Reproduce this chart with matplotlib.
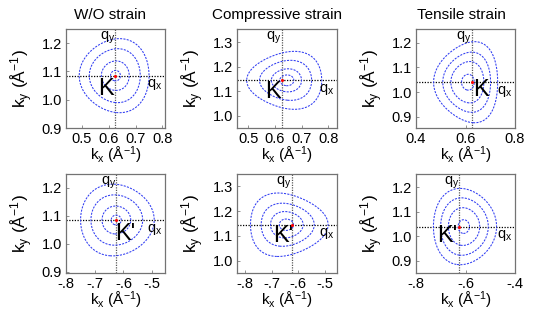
"""Constant-energy contours around K and K' for unstrained / strained graphene."""

import matplotlib

matplotlib.use("Agg")
import matplotlib.pyplot as plt
import matplotlib.transforms as mtransforms
import numpy as np

plt.rcParams["font.family"] = ["Liberation Sans", "DejaVu Sans"]
plt.rcParams["mathtext.default"] = "regular"

# ---- data ----
titles = ["W/O strain", "Compressive strain", "Tensile strain"]
valley_names = ["K", "K", "K", "K'", "K'", "K'"]

# valley point (crosshair) per panel
k_x = [0.625, 0.625, 0.625, -0.625, -0.625, -0.625]
k_y = [1.085, 1.145, 1.040, 1.085, 1.145, 1.040]

# shift of the cone centre from the valley point along kx
cone_shift = [0.0, 0.02, -0.015, 0.0, -0.02, 0.018]
# x stretch of the contours, trigonal warping strength (sign = valley)
stretch_x = [1.0, 1.2, 0.8, 1.0, 1.15, 0.82]
warping = [0.3, 0.6, 0.45, -0.25, -0.6, -0.25]
# contour levels (half height of each ring, 1/Å)
levels = [
    [0.0185, 0.052, 0.095, 0.13],
    [0.022, 0.047, 0.081, 0.116],
    [0.032, 0.083, 0.12, 0.16],
    [0.0175, 0.05, 0.09, 0.128],
    [0.023, 0.053, 0.086, 0.125],
    [0.028, 0.077, 0.117, 0.155],
]

x_lims = [(0.44, 0.81), (0.458, 0.833), (0.4, 0.8),
          (-0.8, -0.455), (-0.83, -0.455), (-0.8, -0.4)]
y_lims = [(0.9, 1.25), (0.95, 1.355), (0.855, 1.255),
          (0.895, 1.25), (0.95, 1.35), (0.85, 1.255)]
x_ticks = [[0.5, 0.6, 0.7, 0.8], [0.5, 0.6, 0.7, 0.8], [0.4, 0.6, 0.8],
           [-0.8, -0.7, -0.6, -0.5], [-0.8, -0.7, -0.6, -0.5], [-0.8, -0.6, -0.4]]
x_ticklabels = [["0.5", "0.6", "0.7", "0.8"], ["0.5", "0.6", "0.7", "0.8"], ["0.4", "0.6", "0.8"],
                ["-.8", "-.7", "-.6", "-.5"], ["-.8", "-.7", "-.6", "-.5"], ["-.8", "-.6", "-.4"]]
y_ticks = [[0.9, 1.0, 1.1, 1.2], [1.0, 1.1, 1.2, 1.3], [0.9, 1.0, 1.1, 1.2],
           [0.9, 1.0, 1.1, 1.2], [1.0, 1.1, 1.2, 1.3], [0.9, 1.0, 1.1, 1.2]]

# valley label position (axes fraction)
name_pos = [(0.40, 0.39), (0.36, 0.363), (0.657, 0.383),
            (0.60, 0.39), (0.46, 0.377), (0.315, 0.373)]

# axes boxes in pixels: left, top, right, bottom
W, H = 551, 310
col_x = [(66, 165), (237, 337), (416, 515)]
row_y = [(29, 128), (174, 273)]
title_x = [0.44, 0.405, 0.455]

fig = plt.figure(figsize=(W / 100, H / 100), dpi=100)
contour_color = "#2f3cf2"

for i in range(6):
    r, c = divmod(i, 3)
    x0, x1 = col_x[c]
    y0, y1 = row_y[r]
    ax = fig.add_axes([x0 / W, 1 - y1 / H, (x1 - x0) / W, (y1 - y0) / H])

    # warped cone field around the shifted Dirac point
    gx = np.linspace(*x_lims[i], 300)
    gy = np.linspace(*y_lims[i], 300)
    X, Y = np.meshgrid(gx, gy)
    dx = (X - (k_x[i] + cone_shift[i])) / stretch_x[i]
    dy = Y - k_y[i]
    rho = np.hypot(dx, dy)
    theta = np.arctan2(dy, dx)
    field = rho * (1 + warping[i] * rho * np.cos(3 * theta))
    ax.contour(X, Y, field, levels=levels[i], colors=contour_color,
               linewidths=0.75, linestyles=[(0, (2.0, 1.2))])

    ax.axhline(k_y[i], color="black", lw=0.9, ls=(0, (1, 1.2)), zorder=1)
    ax.axvline(k_x[i], color="0.35", lw=0.9, ls=(0, (1, 1.0)), zorder=1)
    ax.plot(k_x[i], k_y[i], "o", color="red", ms=2.2, mec="none", zorder=5)

    ax.set_xlim(*x_lims[i])
    ax.set_ylim(*y_lims[i])
    ax.set_xticks(x_ticks[i])
    ax.set_xticklabels(x_ticklabels[i])
    ax.set_yticks(y_ticks[i])
    ax.set_yticklabels([f"{v:.1f}" for v in y_ticks[i]])
    ax.tick_params(direction="in", length=2, width=0.6, color="0.5",
                   labelsize=10.5, pad=3)
    for sp in ax.spines.values():
        sp.set_color("0.45")
        sp.set_linewidth(0.9)

    ax.set_xlabel("k$_x$ (Å$^{-1}$)", fontsize=11, labelpad=-1)
    ax.set_ylabel("k$_y$ (Å$^{-1}$)", fontsize=12.5, labelpad=5)

    # q_y at the top of the vertical line, q_x at the right end of the horizontal line
    tr_y = mtransforms.blended_transform_factory(ax.transData, ax.transAxes)
    ax.text(k_x[i], 0.99, "q$_y$", transform=tr_y, ha="right", va="top", fontsize=10.5)
    tr_x = mtransforms.blended_transform_factory(ax.transAxes, ax.transData)
    ax.text(0.975, k_y[i] - 0.006, "q$_x$", transform=tr_x, ha="right", va="top", fontsize=10.5)

    ax.text(*name_pos[i], valley_names[i], transform=ax.transAxes,
            ha="center", va="center", fontsize=17)

    if r == 0:
        ax.set_title(titles[c], x=title_x[c], fontsize=11, pad=7)

fig.savefig("out.png", dpi=100)
